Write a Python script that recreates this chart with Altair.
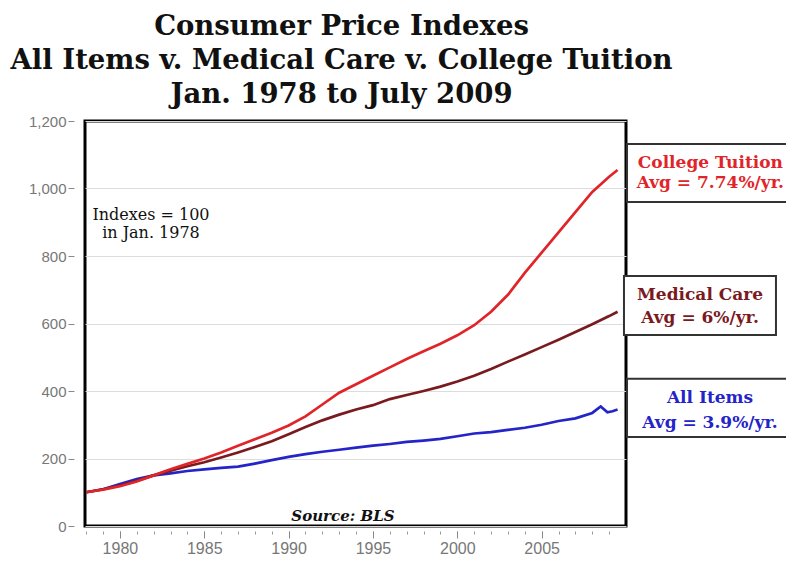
import altair as alt
import pandas as pd

# ---------------- data ----------------
years = [1978, 1979, 1980, 1981, 1982, 1983, 1984, 1985, 1986, 1987, 1988, 1989,
         1990, 1991, 1992, 1993, 1994, 1995, 1996, 1997, 1998, 1999, 2000, 2001,
         2002, 2003, 2004, 2005, 2006, 2007, 2008, 2009, 2009.5]

tuition = [100, 108, 118, 132, 150, 168, 184, 200, 218, 238, 257, 276,
           298, 325, 360, 395, 420, 445, 470, 495, 518, 540, 565, 595,
           635, 685, 750, 810, 870, 930, 990, 1035, 1055]

medical = [100, 109, 120, 134, 150, 164, 177, 189, 203, 218, 234, 251,
           272, 293, 313, 330, 345, 358, 376, 388, 400, 413, 428, 445,
           465, 487, 508, 530, 552, 575, 598, 622, 635]

all_years = [1978, 1979, 1980, 1981, 1982, 1983, 1984, 1985, 1986, 1987, 1988, 1989,
             1990, 1991, 1992, 1993, 1994, 1995, 1996, 1997, 1998, 1999, 2000, 2001,
             2002, 2003, 2004, 2005, 2006, 2007, 2008, 2008.5, 2008.9, 2009.2, 2009.5]
all_items = [100, 109, 124, 139, 150, 156, 163, 168, 172, 176, 185, 195,
             205, 213, 220, 226, 232, 238, 243, 249, 253, 258, 266, 274,
             278, 285, 291, 300, 311, 319, 335, 354, 337, 340, 345]

series_names = ["All Items", "Medical Care", "College Tuition"]
series_colors = ["#2424C8", "#7A1A1E", "#E0252A"]

# box labels
box_series = ["College Tuition", "Medical Care", "All Items"]
box_line1 = ["College Tuition", "Medical Care", "All Items"]
box_line2 = ["Avg = 7.74%/yr.", "Avg = 6%/yr.", "Avg = 3.9%/yr."]
box_x = [2010.06, 2009.88, 2010.06]
box_x2 = [2020.5, 2018.89, 2019.84]
box_y = [1132, 741, 436]
box_y2 = [960, 566, 264]
text_x = [2015.0, 2014.39, 2014.98]
text_y1 = [1075, 684, 379]
text_y2 = [1016, 616, 305]

minor_ticks = list(range(1978, 2010))
major_ticks = [1980, 1985, 1990, 1995, 2000, 2005]
y_ticks = [0, 200, 400, 600, 800, 1000, 1200]

# ---------------- frames ----------------
rows = []
for y, v in zip(all_years, all_items):
    rows.append({"year": y, "value": v, "series": "All Items"})
for y, v in zip(years, medical):
    rows.append({"year": y, "value": v, "series": "Medical Care"})
for y, v in zip(years, tuition):
    rows.append({"year": y, "value": v, "series": "College Tuition"})
df = pd.DataFrame(rows)

boxes = pd.DataFrame({"x": box_x, "x2": box_x2, "y": box_y, "y2": box_y2})
btext = pd.DataFrame({
    "x": text_x + text_x,
    "y": text_y1 + text_y2,
    "t": box_line1 + box_line2,
    "series": box_series + box_series,
})

xscale = alt.Scale(domain=[1977.93, 2010.0], nice=False, zero=False)
yscale = alt.Scale(domain=[0, 1200], nice=False)
cscale = alt.Scale(domain=series_names, range=series_colors)

yaxis = alt.Axis(values=y_ticks, labelExpr="format(datum.value, ',d')",
                 title=None, domain=False,
                 grid=True, gridColor="#dcdcdc", gridWidth=1,
                 tickColor="#888", tickSize=6, offset=11,
                 labelFont="Liberation Sans", labelFontSize=15,
                 labelColor="#777", labelPadding=2)

minor_axis = alt.Axis(values=minor_ticks, labels=False, title=None, domain=False,
                      grid=False, tickColor="#999", tickSize=3, offset=5,
                      orient="bottom")
major_axis = alt.Axis(values=major_ticks, title=None, domain=False, grid=False,
                      tickColor="#888", tickSize=7, offset=5,
                      labelExpr="format(datum.value, 'd')",
                      labelFont="Liberation Sans", labelFontSize=16,
                      labelColor="#777", labelPadding=2, orient="bottom")

Y = lambda f: alt.Y(f, scale=yscale, axis=yaxis)

layers = []
first = True
for name in series_names:
    layers.append(
        alt.Chart(df).transform_filter(alt.datum.series == name).mark_line(
            strokeWidth=2.7
        ).encode(
            x=alt.X("year:Q", scale=xscale, axis=minor_axis if first else None),
            y=Y("value:Q"),
            color=alt.Color("series:N", scale=cscale, legend=None),
        )
    )
    first = False

box_layer = alt.Chart(boxes).mark_rect(
    fill="white", stroke="#333", strokeWidth=2
).encode(
    x=alt.X("x:Q", scale=xscale, axis=major_axis),
    x2="x2:Q",
    y=Y("y:Q"),
    y2="y2:Q",
)

box_text = alt.Chart(btext).mark_text(
    font="DejaVu Serif", fontWeight="bold", fontSize=17, align="center",
    baseline="middle"
).encode(
    x=alt.X("x:Q", scale=xscale, axis=None),
    y=Y("y:Q"),
    text="t:N",
    color=alt.Color("series:N", scale=cscale, legend=None),
)

note = alt.Chart(pd.DataFrame({"x": [1981.84], "y": [921],
                               "t": ["Indexes = 100\nin Jan. 1978"]})).mark_text(
    font="DejaVu Serif", fontSize=16, align="center", baseline="middle",
    lineBreak="\n", lineHeight=18, color="#111"
).encode(
    x=alt.X("x:Q", scale=xscale, axis=None),
    y=Y("y:Q"),
    text="t:N",
)

source = alt.Chart(pd.DataFrame({"x": [1993.22], "y": [14.8], "t": ["Source: BLS"]})).mark_text(
    font="DejaVu Serif", fontSize=15, fontWeight="bold", fontStyle="italic",
    align="center", baseline="alphabetic", color="#111"
).encode(
    x=alt.X("x:Q", scale=xscale, axis=None),
    y=Y("y:Q"),
    text="t:N",
)

chart = alt.layer(*layers, box_layer, box_text, note, source).resolve_axis(
    x="independent"
).properties(
    width=541,
    height=405,
    background="white",
    title=alt.TitleParams(
        text=["Consumer Price Indexes",
              "All Items v. Medical Care v. College Tuition",
              "Jan. 1978 to July 2009"],
        font="DejaVu Serif", fontSize=27.5, fontWeight="bold", color="#111",
        anchor="middle", dx=-14, offset=6, lineHeight=34,
    ),
    autosize=alt.AutoSizeParams(type="none"),
    padding={"left": 77, "top": 113, "right": 160, "bottom": 31},
).configure_view(
    stroke="black", strokeWidth=3
)

chart.save("out.html", embed_options={"renderer": "svg", "actions": False})
